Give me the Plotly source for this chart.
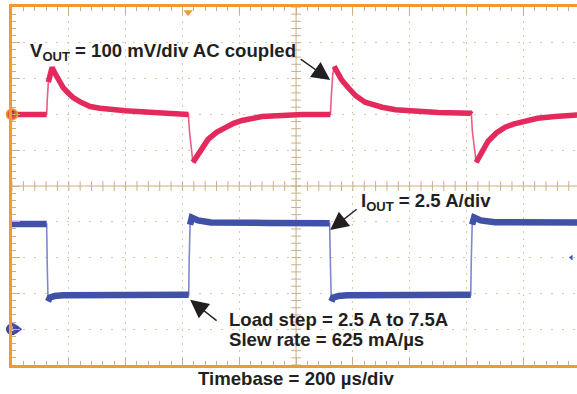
import plotly.graph_objects as go

# ---------------- data ----------------
# Channel 2: VOUT, AC coupled, mV  (100 mV/div, reference at +2 div)
vout_t_us = [0, 122, 124, 128, 135, 141, 150, 165, 180, 200, 215, 240, 275, 310, 345, 400, 486, 560, 618,
             621, 625, 637, 660, 690, 720, 750, 780, 810, 850, 880, 950, 1021, 1118,
             1121, 1124, 1129, 1134, 1145, 1160, 1183, 1210, 1243, 1270, 1303, 1350, 1419, 1500, 1614,
             1617, 1621, 1634, 1655, 1676, 1705, 1736, 1765, 1796, 1850, 1912, 2000]
vout_mv = [0, 0, 40, 90, 118, 131, 117, 95, 75, 58, 47, 35, 22, 17, 14, 10, 6, 4, 3,
           0, -50, -134, -105, -70, -50, -36, -25, -17, -10, -6, -3, 0, 0,
           0, 50, 110, 134, 115, 97, 75, 52, 34, 26, 20, 13, 8, 5, 3,
           0, -50, -134, -105, -75, -52, -36, -27, -20, -11, -6, -1]

# Channel 1: IOUT, A  (2.5 A/div, reference at -4 div)
iout_t_us = [0, 122, 124, 127, 133, 150, 180, 400, 622,
             624, 627, 633, 655, 700, 900, 1118,
             1121, 1124, 1130, 1150, 1180, 1400, 1615,
             1617, 1620, 1627, 1650, 1700, 2000]
iout_a = [7.35, 7.35, 4.5, 1.95, 2.2, 2.32, 2.37, 2.38, 2.4,
          5.0, 7.3, 7.8, 7.6, 7.45, 7.42, 7.4,
          4.5, 1.95, 2.2, 2.32, 2.37, 2.38, 2.4,
          5.0, 7.3, 7.8, 7.6, 7.47, 7.45]

# scope settings
TIME_PER_DIV_US = 200
CH2_MV_PER_DIV = 100
CH2_OFFSET_DIV = 2
CH1_A_PER_DIV = 2.5
CH1_OFFSET_DIV = -4
TRIGGER_TIME_US = 620
TRIGGER_LEVEL_A = 5.0

# annotation texts
label_vout = "V<sub>OUT</sub> = 100 mV/div AC coupled"
label_iout = "I<sub>OUT</sub> = 2.5 A/div"
label_step = "Load step = 2.5 A to 7.5A"
label_slew = "Slew rate = 625 mA/µs"
label_time = "Timebase = 200 µs/div"

# ---------------- styling ----------------
RED = "#E42A5C"
RED_EDGE = "#EC5C80"
BLUE = "#4151A8"
BLUE_EDGE = "#7D89CF"
ORANGE = "#F39A2E"
TAN = "#C9B088"
GRID = "#D8CAAE"
TXT = "#231F20"
FONT = "Liberation Sans, Arial, sans-serif"

X_MAX = 1989  # visible part of the 10-div screen (right edge cropped)

v_div = [CH2_OFFSET_DIV + v / CH2_MV_PER_DIV for v in vout_mv]
i_div = [CH1_OFFSET_DIV + a / CH1_A_PER_DIV for a in iout_a]


def split_fast(t, y, thr):
    """Break the thick band at fast edges (edges are drawn thin)."""
    xs, ys = [t[0]], [y[0]]
    for k in range(1, len(t)):
        if abs(y[k] - y[k - 1]) / (t[k] - t[k - 1]) > thr:
            xs.append(None)
            ys.append(None)
        xs.append(t[k])
        ys.append(y[k])
    return xs, ys


fig = go.Figure()

# centre graticule lines with minor ticks
minor_y = [k / 5 for k in range(-25, 26)]
minor_x = [k * TIME_PER_DIV_US / 5 for k in range(0, 51)]
fig.add_shape(type="line", x0=5 * TIME_PER_DIV_US, x1=5 * TIME_PER_DIV_US, y0=-5, y1=5,
              line=dict(color=TAN, width=1), layer="below")
fig.add_shape(type="line", x0=0, x1=X_MAX, y0=0, y1=0,
              line=dict(color=TAN, width=1), layer="below")
fig.add_trace(go.Scatter(x=[5 * TIME_PER_DIV_US] * len(minor_y), y=minor_y, mode="markers",
                         marker=dict(symbol="line-ew", size=7, line=dict(color=TAN, width=1)),
                         hoverinfo="skip", showlegend=False))
fig.add_trace(go.Scatter(x=minor_x, y=[0] * len(minor_x), mode="markers",
                         marker=dict(symbol="line-ns", size=7, line=dict(color=TAN, width=1)),
                         hoverinfo="skip", showlegend=False))

# waveforms: thin full trace + thick noisy band
fig.add_trace(go.Scatter(x=vout_t_us, y=v_div, mode="lines",
                         line=dict(color=RED_EDGE, width=1.6), hoverinfo="skip", showlegend=False))
xs, ys = split_fast(vout_t_us, v_div, 0.04)
fig.add_trace(go.Scatter(x=xs, y=ys, mode="lines", connectgaps=False,
                         line=dict(color=RED, width=5.5), hoverinfo="skip", showlegend=False))
fig.add_trace(go.Scatter(x=iout_t_us, y=i_div, mode="lines",
                         line=dict(color=BLUE_EDGE, width=1.6), hoverinfo="skip", showlegend=False))
xs, ys = split_fast(iout_t_us, i_div, 0.1)
fig.add_trace(go.Scatter(x=xs, y=ys, mode="lines", connectgaps=False,
                         line=dict(color=BLUE, width=6.5), hoverinfo="skip", showlegend=False))

# channel reference markers
fig.add_trace(go.Scatter(x=[0], y=[CH2_OFFSET_DIV], mode="markers+text", text=["2"],
                         textfont=dict(size=7, color="#7A1020", family=FONT),
                         marker=dict(size=11, color="#E8504A", line=dict(color=ORANGE, width=1.5)),
                         cliponaxis=False, hoverinfo="skip", showlegend=False))
fig.add_trace(go.Scatter(x=[22], y=[CH1_OFFSET_DIV], mode="markers",
                         marker=dict(symbol="triangle-right", size=8, color=BLUE),
                         cliponaxis=False, hoverinfo="skip", showlegend=False))
fig.add_trace(go.Scatter(x=[0], y=[CH1_OFFSET_DIV], mode="markers+text", text=["1"],
                         textfont=dict(size=7, color="white", family=FONT),
                         marker=dict(size=11, color=BLUE, line=dict(color="#2E3C88", width=1)),
                         cliponaxis=False, hoverinfo="skip", showlegend=False))
# trigger position / level markers
fig.add_trace(go.Scatter(x=[TRIGGER_TIME_US], y=[4.85], mode="markers",
                         marker=dict(symbol="triangle-down", size=8, color=ORANGE),
                         cliponaxis=False, hoverinfo="skip", showlegend=False))
fig.add_trace(go.Scatter(x=[X_MAX - 20], y=[CH1_OFFSET_DIV + TRIGGER_LEVEL_A / CH1_A_PER_DIV],
                         mode="markers",
                         marker=dict(symbol="triangle-left", size=5, color=BLUE),
                         cliponaxis=False, hoverinfo="skip", showlegend=False))

# ---------------- annotations ----------------
tf = dict(family=FONT, size=18.6, color=TXT, weight="bold")
fig.add_annotation(x=58, y=3.75, text=label_vout, showarrow=False, xanchor="left", yanchor="middle",
                   font=tf)
fig.add_annotation(x=1222, y=-0.45, text=label_iout, showarrow=False, xanchor="left", yanchor="middle",
                   font=tf)
fig.add_annotation(x=756, y=-3.73, text=label_step, showarrow=False, xanchor="left", yanchor="middle",
                   font=tf)
fig.add_annotation(x=756, y=-4.29, text=label_slew, showarrow=False, xanchor="left", yanchor="middle",
                   font=tf)
fig.add_annotation(x=0.504, y=-0.039, xref="paper", yref="paper", text=label_time, showarrow=False,
                   xanchor="center", yanchor="middle", font=tf)

arrow = dict(showarrow=True, arrowhead=2, arrowsize=2.6, arrowwidth=1.4, arrowcolor=TXT, text="")
fig.add_annotation(x=1120, y=2.96, ax=-31, ay=-22, **arrow)
fig.add_annotation(x=1120, y=-1.23, ax=28, ay=-22, **arrow)
fig.add_annotation(x=627, y=-3.18, ax=28, ay=22, **arrow)

# ---------------- layout ----------------
fig.update_layout(
    width=577, height=394,
    margin=dict(l=12, r=0, t=7, b=29, autoexpand=False),
    paper_bgcolor="white", plot_bgcolor="white",
    xaxis=dict(range=[0, X_MAX], tick0=0, dtick=TIME_PER_DIV_US, showgrid=True, gridcolor=GRID,
               gridwidth=1, griddash="2px,5px", zeroline=False, showticklabels=False,
               showline=True, linecolor=ORANGE, linewidth=2.5, mirror="ticks",
               ticks="inside", ticklen=8, tickcolor=TAN, tickwidth=1,
               minor=dict(dtick=TIME_PER_DIV_US / 5, ticks="inside", ticklen=4, tickcolor=TAN,
                          showgrid=False)),
    yaxis=dict(range=[-5, 5], tick0=0, dtick=1, showgrid=True, gridcolor=GRID, gridwidth=1,
               griddash="2px,9px", zeroline=False, showticklabels=False,
               showline=True, linecolor=ORANGE, linewidth=2.5, mirror=False,
               ticks="inside", ticklen=8, tickcolor=TAN, tickwidth=1,
               minor=dict(dtick=0.2, ticks="inside", ticklen=4, tickcolor=TAN, showgrid=False)),
)

fig.write_html("out.html", config={"displayModeBar": False},
               post_script="document.body.style.margin='0';")
